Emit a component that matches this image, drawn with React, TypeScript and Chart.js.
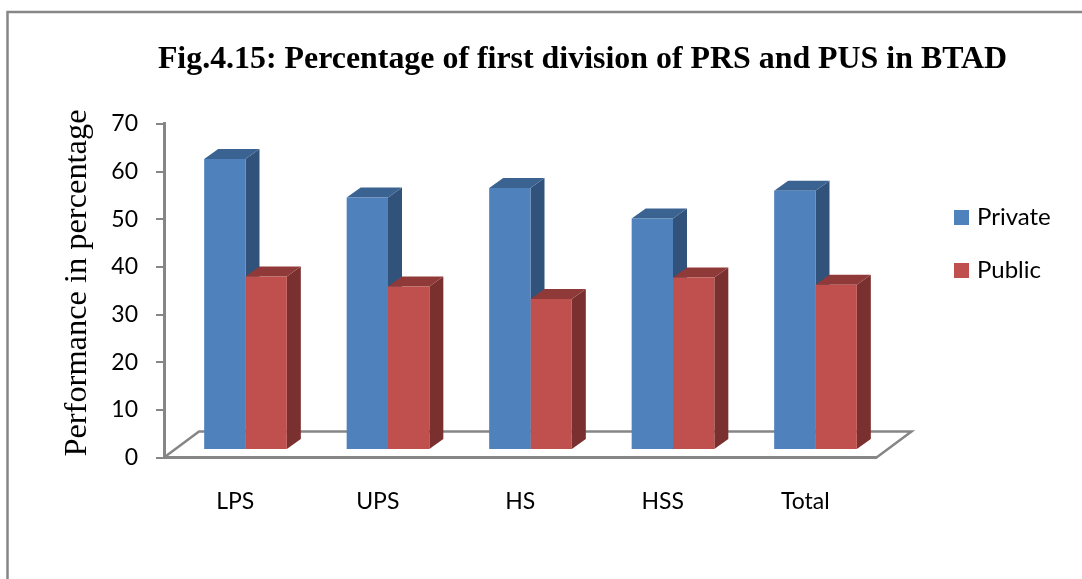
import React, { useEffect, useRef } from "react";
import { Chart, registerables } from "chart.js";

Chart.register(...registerables);

const categories = ["LPS", "UPS", "HS", "HSS", "Total"];
const privateValues = [61.1, 53.0, 55.0, 48.6, 54.4];
const publicValues = [36.4, 34.3, 31.7, 36.2, 34.7];
const yTicks = [0, 10, 20, 30, 40, 50, 60, 70];
const titleText = "Fig.4.15: Percentage of first division of PRS and PUS in BTAD";
const yTitleText = "Performance in percentage";

const GRAY = "#868686";
const BAR_DX = 10.25;
const BAR_DY = -7.5;
const DEPTH_X = 14;
const DEPTH_Y = -10;
const FLOOR_DX = 35;
const FLOOR_DY = -26;
const sideColors = ["#31527A", "#7A302F"];
const topColors = ["#3B6391", "#8F3A38"];

function poly(ctx: CanvasRenderingContext2D, pts: number[][], color: string) {
  ctx.fillStyle = color;
  ctx.beginPath();
  pts.forEach((p, i) => (i ? ctx.lineTo(p[0], p[1]) : ctx.moveTo(p[0], p[1])));
  ctx.closePath();
  ctx.fill();
}

const threeD = {
  id: "threeD",
  beforeLayout(chart: any) {
    const legend = chart.legend;
    if (!legend.__fixed) {
      const fit = legend.fit.bind(legend);
      legend.fit = () => {
        fit();
        legend.width = 140;
      };
      legend.__fixed = true;
    }
  },
  beforeDraw(chart: any) {
    const { ctx, width } = chart;
    ctx.save();
    ctx.strokeStyle = GRAY;
    ctx.lineWidth = 2.5;
    ctx.beginPath();
    ctx.moveTo(7.5, chart.height);
    ctx.lineTo(7.5, 12);
    ctx.lineTo(width, 12);
    ctx.stroke();
    ctx.restore();
  },
  afterLayout(chart: any) {
    const t = chart.titleBlock;
    t.left = 83;
    t.right = 1082;
    const l = chart.legend;
    l.left = 929;
    l.right = 1082;
    l.top = 176.5;
    l.bottom = 320;
  },
  beforeDatasetsDraw(chart: any) {
    const { ctx, chartArea } = chart;
    const { left, right, bottom } = chartArea;
    ctx.save();
    ctx.strokeStyle = GRAY;
    ctx.lineWidth = 2.5;
    ctx.beginPath();
    ctx.moveTo(left, bottom);
    ctx.lineTo(left + FLOOR_DX, bottom + FLOOR_DY);
    ctx.lineTo(right + FLOOR_DX, bottom + FLOOR_DY);
    ctx.lineTo(right, bottom);
    ctx.stroke();
    ctx.save();
    ctx.translate(77, 283);
    ctx.rotate(-Math.PI / 2);
    ctx.font = '32.4px "Liberation Serif"';
    ctx.fillStyle = "#000";
    ctx.textAlign = "center";
    ctx.textBaseline = "middle";
    ctx.fillText(yTitleText, 0, 0);
    ctx.restore();
    [0, 1].forEach((di) => {
      chart.getDatasetMeta(di).data.forEach((bar: any) => {
        const w = bar.width;
        const x1 = bar.x - w / 2 + BAR_DX;
        const x2 = bar.x + w / 2 + BAR_DX;
        const yt = bar.y + BAR_DY;
        const yb = bar.base + BAR_DY;
        poly(ctx, [[x2, yt], [x2 + DEPTH_X, yt + DEPTH_Y], [x2 + DEPTH_X, yb + DEPTH_Y], [x2, yb]], sideColors[di]);
        poly(ctx, [[x1, yt], [x1 + DEPTH_X, yt + DEPTH_Y], [x2 + DEPTH_X, yt + DEPTH_Y], [x2, yt]], topColors[di]);
      });
    });
    ctx.restore();
    ctx.save();
    ctx.translate(BAR_DX, BAR_DY);
  },
  afterDatasetsDraw(chart: any) {
    chart.ctx.restore();
  },
};

export default function App() {
  const ref = useRef<HTMLCanvasElement | null>(null);
  useEffect(() => {
    document.body.style.margin = "0";
    const chart = new Chart(ref.current!, {
      type: "bar",
      data: {
        labels: categories,
        datasets: [
          { label: "Private", data: privateValues, backgroundColor: "#4F81BD", clip: false } as any,
          { label: "Public", data: publicValues, backgroundColor: "#C0504D", clip: false } as any,
        ],
      },
      options: {
        animation: false,
        responsive: false,
        layout: { padding: { left: 0, right: 65.5, top: 0, bottom: 0 } },
        datasets: { bar: { categoryPercentage: 0.58, barPercentage: 1 } },
        plugins: {
          title: {
            display: true,
            text: titleText,
            color: "#000",
            font: { family: '"Liberation Serif"', size: 31.9, weight: "bold" },
            padding: { top: 41, bottom: 44.7 },
          },
          legend: {
            position: "right",
            align: "start",
            labels: {
              boxWidth: 7,
              boxHeight: 15,
              usePointStyle: true,
              pointStyle: "rect",
              padding: 29,
              color: "#000",
              font: { family: "Lato", size: 24 },
            },
          },
          tooltip: { enabled: false },
        },
        scales: {
          x: {
            grid: { display: false, drawTicks: false },
            border: { color: GRAY, width: 3 },
            ticks: { color: "#000", font: { family: "Lato", size: 23 }, padding: 30, maxRotation: 0 },
            afterFit: (s: any) => { s.height = 121.5; },
          },
          y: {
            min: 0,
            max: 70,
            afterBuildTicks: (s: any) => { s.ticks = yTicks.map((value) => ({ value })); },
            grid: { drawOnChartArea: false, color: GRAY, lineWidth: 2, tickLength: 8 },
            border: { color: GRAY, width: 3 },
            ticks: { color: "#000", font: { family: "Lato", size: 23 }, padding: 18 },
            afterFit: (s: any) => { s.width = 164; },
          },
        },
      } as any,
      plugins: [threeD],
    });
    return () => chart.destroy();
  }, []);
  return <canvas ref={ref} width={1082} height={579} style={{ display: "block" }} />;
}
